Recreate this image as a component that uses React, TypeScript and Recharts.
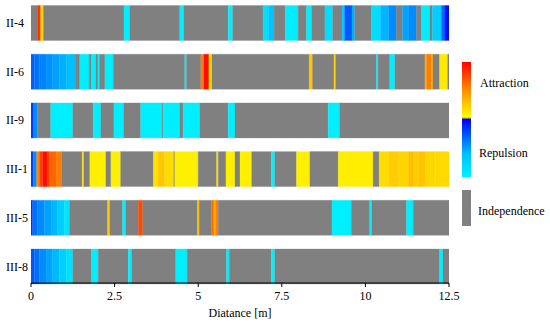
import React from "react";
import { BarChart, Bar, XAxis, YAxis, Rectangle } from "recharts";

// rows of the figure, top to bottom
const rowNames = ["II-4", "II-6", "II-9", "III-1", "III-5", "III-8"];

// [from m, to m, value]  value > 0 = attraction (0..1), value < 0 = repulsion (-1..0)
// everything not listed is independence (grey)
const ii4 = [
  [0.19, 0.29, 0.8], [0.29, 0.37, 0.12],
  [2.78, 2.96, -0.05], [4.45, 4.57, -0.05], [5.9, 6.03, -0.05],
  [6.94, 7.1, -0.12], [7.1, 7.27, -0.22],
  [7.61, 7.99, -0.06], [8.24, 8.39, -0.05], [8.79, 9.02, -0.12],
  [9.3, 9.38, -0.2], [9.38, 9.6, -0.65], [9.6, 9.68, -0.3],
  [10.18, 10.45, -0.12], [10.45, 10.7, -0.28], [10.7, 10.93, -0.45],
  [11.11, 11.3, -0.35], [11.3, 11.53, -0.45],
  [11.68, 11.93, -0.06], [12.0, 12.27, -0.18],
  [12.27, 12.38, -0.6], [12.38, 12.5, -0.95],
];
const ii6 = [
  [0, 0.1, -0.62], [0.1, 0.25, -0.55], [0.25, 0.45, -0.48], [0.45, 0.65, -0.42],
  [0.65, 0.85, -0.36], [0.85, 1.05, -0.3], [1.05, 1.32, -0.24],
  [1.46, 1.74, -0.05], [1.81, 1.94, -0.05], [2.0, 2.05, -0.05], [2.21, 2.46, -0.05],
  [4.6, 4.65, -0.05],
  [5.08, 5.17, 0.5], [5.17, 5.32, 0.95], [5.32, 5.41, 0.1],
  [8.32, 8.42, 0.22], [9.06, 9.11, 0.15],
  [10.33, 10.38, -0.05], [10.73, 10.88, -0.05],
  [11.78, 11.83, 0.3], [11.83, 11.97, 0.5], [11.97, 12.02, 0.3],
  [12.22, 12.46, 0.06],
];
const ii9 = [
  [0, 0.08, -0.75], [0.08, 0.19, -0.45],
  [0.59, 1.25, -0.05], [1.86, 2.09, -0.05], [2.48, 2.78, -0.05],
  [3.28, 3.92, -0.05], [3.95, 4.45, -0.05], [4.55, 5.05, -0.05],
  [5.9, 6.1, -0.05], [8.89, 9.23, -0.05],
];
const iii1 = [
  [0, 0.07, -0.75], [0.07, 0.17, -0.45],
  [0.17, 0.25, 0.45], [0.25, 0.35, 0.75], [0.35, 0.48, 0.95], [0.48, 0.56, 0.75],
  [0.56, 0.75, 0.6], [0.75, 0.92, 0.5],
  [1.53, 1.58, 0.1], [1.76, 2.24, 0.04], [2.39, 2.68, 0.04],
  [3.66, 3.8, 0.1], [3.8, 4.0, 0.2], [4.0, 4.27, 0.12], [4.3, 5.0, 0.04],
  [5.55, 5.6, 0.1], [5.83, 6.1, 0.04], [6.25, 6.6, 0.04],
  [7.19, 7.29, -0.05], [7.94, 8.34, 0.04], [9.19, 10.23, 0.05],
  [10.41, 10.7, 0.12], [10.7, 11.0, 0.18], [11.0, 11.3, 0.15], [11.3, 11.45, 0.24],
  [11.45, 11.6, 0.18], [11.6, 11.8, 0.22], [11.8, 12.1, 0.14], [12.1, 12.5, 0.13],
];
const iii5 = [
  [0, 0.05, -0.8], [0.05, 0.2, -0.56], [0.2, 0.4, -0.45], [0.4, 0.6, -0.36],
  [0.6, 0.8, -0.27], [0.8, 1.0, -0.18], [1.0, 1.15, -0.1],
  [2.29, 2.36, 0.2], [2.74, 2.84, -0.05], [3.21, 3.34, 0.7], [4.98, 5.03, 0.2],
  [5.4, 5.47, 0.55], [5.47, 5.52, 0.3], [5.52, 5.6, 0.5],
  [9.0, 9.58, -0.05], [10.13, 10.19, -0.05], [11.23, 11.43, -0.05],
];
const iii8 = [
  [0, 0.1, -0.66], [0.1, 0.25, -0.56], [0.25, 0.45, -0.45], [0.45, 0.65, -0.35],
  [0.65, 0.85, -0.26], [0.85, 1.05, -0.18], [1.05, 1.25, -0.11],
  [1.81, 2.01, -0.05], [2.91, 3.01, -0.05], [4.33, 4.67, -0.05],
  [5.85, 5.93, -0.05], [7.19, 7.29, -0.05], [12.22, 12.32, -0.05],
];
const rowEvents = [ii4, ii6, ii9, iii1, iii5, iii8];

const xTicks = [0, 2.5, 5, 7.5, 10, 12.5];
const legendLabels = ["Attraction", "Repulsion", "Independence"];

const X_MAX = 12.5;
const GRAY = "#808080";
const FONT = "'Liberation Serif', 'Times New Roman', serif";
const SHIFT = 7.7; // push bars to the bottom of their band so the last one sits on the axis

function colorOf(v: number) {
  if (v > 0) return `rgb(255,${Math.round(250 * (1 - v))},0)`;
  const t = -v;
  return `rgb(0,${Math.round(252 * (1 - t))},255)`;
}

// turn each row's events into a run of stacked widths (grey filling the gaps)
const rows = rowNames.map((name, i) => {
  const row: Record<string, any> = { name };
  let pos = 0;
  let k = 0;
  const push = (w: number, c: string) => {
    row[`s${k}`] = w;
    row[`c${k}`] = c;
    k++;
  };
  for (const [a, b, v] of rowEvents[i]) {
    if (a > pos + 1e-9) push(a - pos, GRAY);
    push(b - a, colorOf(v));
    pos = b;
  }
  if (pos < X_MAX - 1e-9) push(X_MAX - pos, GRAY);
  row.n = k;
  return row;
});
const nSeg = Math.max(...rows.map((r) => r.n));
rows.forEach((r) => {
  for (let k = r.n; k < nSeg; k++) {
    r[`s${k}`] = 0;
    r[`c${k}`] = "none";
  }
});

const segShape = (k: number) => (props: any) => {
  const { x, y, width, height, index } = props;
  const fill = (props.payload ?? rows[index])[`c${k}`];
  if (!width || width <= 0 || fill === "none") return <g />;
  return (
    <Rectangle x={x} y={y + SHIFT} width={width} height={height}
      fill={fill} stroke={fill} strokeWidth={0.3} />
  );
};

const RowTick = (props: any) => {
  const { y, payload } = props;
  return (
    <text x={6} y={y + SHIFT} dy="0.35em" textAnchor="start"
      fill="#000" fontSize={12} fontFamily={FONT}>
      {payload.value}
    </text>
  );
};

const DistTick = (props: any) => {
  const { x, y, payload } = props;
  return (
    <text x={x} y={y} dy="0.71em" textAnchor="middle"
      fill="#000" fontSize={12} fontFamily={FONT}>
      {payload.value}
    </text>
  );
};

export default function App() {
  return (
    <div style={{ position: "absolute", left: 0, top: 0, width: 550, height: 324, background: "#fff", fontFamily: FONT }}>
      <BarChart
        width={550}
        height={324}
        data={rows}
        layout="vertical"
        barCategoryGap={0}
        margin={{ top: -9.2, right: 101, bottom: 0, left: 0 }}
      >
        <XAxis
          type="number"
          domain={[0, X_MAX]}
          ticks={xTicks}
          allowDataOverflow
          height={41}
          tickSize={4}
          tickMargin={4}
          axisLine={{ stroke: "#000" }}
          tickLine={{ stroke: "#000" }}
          tick={<DistTick />}
          label={{ value: "Diatance [m]", position: "insideBottom", offset: 7, fill: "#000", fontSize: 12, fontFamily: FONT }}
        />
        <YAxis
          type="category"
          dataKey="name"
          width={31}
          axisLine={false}
          tickLine={false}
          tick={<RowTick />}
        />
        {Array.from({ length: nSeg }, (_, k) => (
          <Bar key={k} dataKey={`s${k}`} stackId="r" barSize={35}
            isAnimationActive={false} shape={segShape(k)} />
        ))}
      </BarChart>

      {/* colour key on the right */}
      <div style={{
        position: "absolute", left: 462, top: 62, width: 9, height: 115,
        background: "linear-gradient(to bottom, #ff0000 0%, #ff8000 22%, #ffff00 48%, #0000ff 50%, #0050ff 62%, #00c0ff 80%, #00f0ff 100%)",
      }} />
      <div style={{ position: "absolute", left: 462, top: 190, width: 9, height: 36, background: GRAY }} />
      <div style={{ position: "absolute", left: 480, top: 76, fontSize: 12, lineHeight: "14px", color: "#000" }}>{legendLabels[0]}</div>
      <div style={{ position: "absolute", left: 479, top: 146, fontSize: 12, lineHeight: "14px", color: "#000" }}>{legendLabels[1]}</div>
      <div style={{ position: "absolute", left: 478, top: 204, fontSize: 12, lineHeight: "14px", color: "#000" }}>{legendLabels[2]}</div>
    </div>
  );
}
